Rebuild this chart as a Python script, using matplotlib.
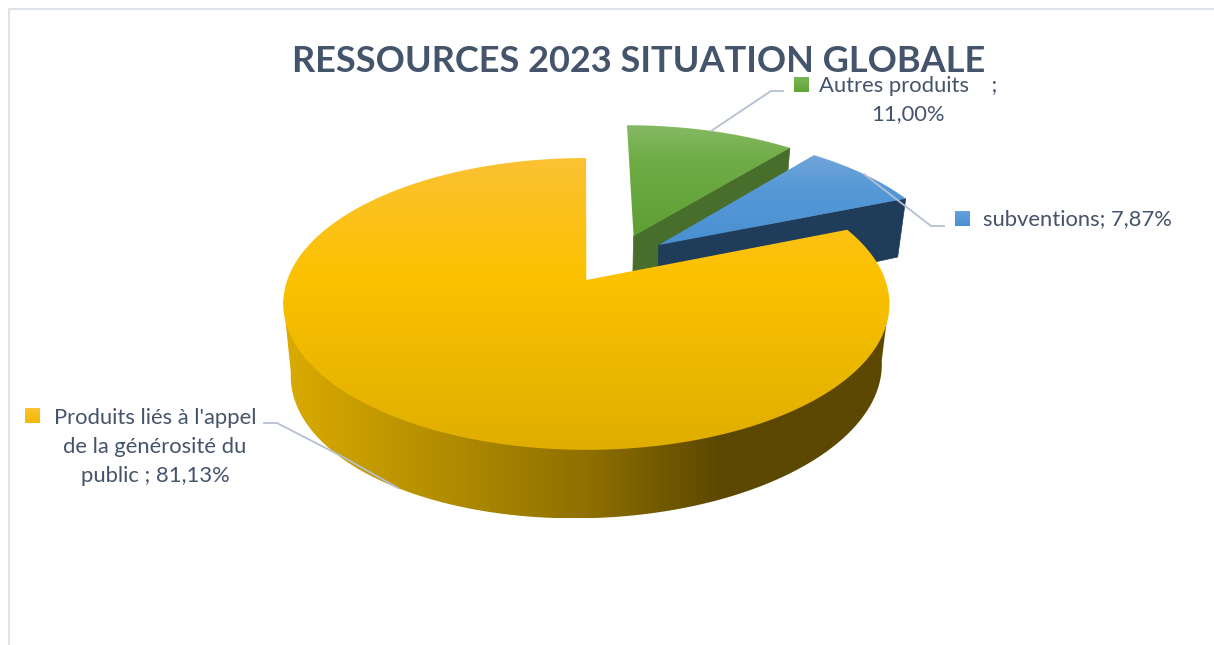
import numpy as np
import matplotlib
matplotlib.use('Agg')
import matplotlib.pyplot as plt
from matplotlib.colors import LinearSegmentedColormap
from matplotlib.patches import Polygon

plt.rcParams['font.family'] = ['Lato', 'DejaVu Sans']

# data
title = 'RESSOURCES 2023 SITUATION GLOBALE'
categories = ['Autres produits   ', 'subventions', "Produits liés à l'appel\nde la générosité du\npublic "]
values = [11.00, 7.87, 81.13]
separators = [' ;\n', '; ', '; ']

# how far each slice is pulled off the centre, in disc radius units
pull_u = [0.173, 0.259, 0.006]
pull_v = [-0.327, -0.257, 0.0]

# pie geometry in pixels, perspective k
cx, cy = 584.5, 280
R, r, k = 299, 142, 0.164
low_y, low_r, low_tilt, shrink = 66, 144, 6, 0.975

top_colors = [
    [(0.0, '#86B963'), (0.3, '#70AD47'), (1.0, '#5E9E33')],
    [(0.0, '#72A4D9'), (0.4, '#5498D6'), (1.0, '#4A90D2')],
    [(0.0, '#FBC134'), (0.4, '#FCC200'), (1.0, '#DFAE00')],
]
wall_colors = ['#476E2B', '#1F3D5B']
yellow_wall = [(0.0, '#DBAB00'), (0.2, '#BC9400'), (0.5, '#8F7000'), (0.72, '#5C4800'), (1.0, '#5C4800')]
key_colors = [
    [(0.0, '#7DB558'), (1.0, '#62A436')],
    [(0.0, '#66A1DB'), (1.0, '#4A90D2')],
    [(0.0, '#FBC431'), (1.0, '#F4B800')],
]
text_color = '#44546A'
leader_color = '#B4C0D2'


def project(u, v, low=False):
    w = 1 - k * v
    if low:
        return cx + R * shrink * u / w, cy + low_y + low_r * v / w - low_tilt * u / w
    return cx + R * u / w, cy + r * v / w


def rim(t0, t1, pu, pv, low=False, n=200):
    t = np.radians(np.linspace(t0, t1, n))
    x, y = project(pu + np.sin(t), pv - np.cos(t), low)
    return np.column_stack([x, y])


def grad_fill(ax, pts, stops, vertical=True, zorder=2):
    pts = np.asarray(pts)
    x0, y0 = pts.min(axis=0)
    x1, y1 = pts.max(axis=0)
    cmap = LinearSegmentedColormap.from_list('g', stops)
    g = np.linspace(0, 1, 256)
    g = g[:, None] if vertical else g[None, :]
    im = ax.imshow(g, cmap=cmap, vmin=0, vmax=1, extent=(x0, x1, y1, y0),
                   aspect='auto', origin='upper', zorder=zorder)
    patch = Polygon(pts, closed=True, transform=ax.transData, fc='none', ec='none')
    ax.add_patch(patch)
    im.set_clip_path(patch)


fig = plt.figure(figsize=(12.14, 6.45), dpi=100)
ax = fig.add_axes([0, 0, 1, 1])

# slice angles, clockwise from 12 o'clock
ends = np.cumsum(values) / np.sum(values) * 360
starts = np.r_[0, ends[:-1]]

# green and blue: cut wall then top
z = 2
for i in range(2):
    apex = np.array(project(pull_u[i], pull_v[i]))
    apex_low = np.array(project(pull_u[i], pull_v[i], True))
    edge = rim(ends[i], ends[i], pull_u[i], pull_v[i], n=1)[0]
    edge_low = rim(ends[i], ends[i], pull_u[i], pull_v[i], True, n=1)[0]
    ax.add_patch(Polygon([apex, edge, edge_low, apex_low], fc=wall_colors[i], ec=wall_colors[i], lw=0.5, zorder=z))
    top = np.vstack([apex, rim(starts[i], ends[i], pull_u[i], pull_v[i])])
    grad_fill(ax, top, top_colors[i], zorder=z + 1)
    z += 2

# yellow: outer wall between the widest points of the top, then top
i = 2
wall = np.vstack([rim(262, 262, pull_u[i], pull_v[i], n=1),
                  rim(262, 98, pull_u[i], pull_v[i], True),
                  rim(98, 98, pull_u[i], pull_v[i], n=1)])
grad_fill(ax, wall, yellow_wall, vertical=False, zorder=z)
top = np.vstack([project(pull_u[i], pull_v[i]), rim(starts[i], ends[i], pull_u[i], pull_v[i])])
grad_fill(ax, top, top_colors[i], zorder=z + 1)

# leader lines, inner end sits on the rim at the middle of the slice
mids = (starts + ends) / 2
a = rim(mids[0], mids[0], pull_u[0], pull_v[0], n=1)[0]
ax.plot([a[0], 771, 783], [a[1], 91, 91], color=leader_color, lw=1.3, zorder=10)
a = rim(mids[1], mids[1], pull_u[1], pull_v[1], n=1)[0]
ax.plot([a[0], 931, 944], [a[1], 226, 226], color=leader_color, lw=1.3, zorder=10)
a = rim(mids[2], mids[2], pull_u[2], pull_v[2], True, n=1)[0]
ax.plot([a[0], 343, 277, 264], [a[1], 457, 423, 423], color=leader_color, lw=1.3, zorder=10)

# legend keys and labels
label_pos = [(908, 100), (1077, 219), (155, 447)]
key_pos = [(794, 77), (955, 211), (25, 408)]
for i in range(3):
    x, y = key_pos[i]
    grad_fill(ax, [(x, y), (x + 15, y), (x + 15, y + 15), (x, y + 15)], key_colors[i], zorder=11)
    s = categories[i] + separators[i] + f'{values[i]:.2f}%'.replace('.', ',')
    ax.text(label_pos[i][0], label_pos[i][1], s, ha='center', va='center', ma='center',
            fontsize=15.8, color=text_color, linespacing=1.55, zorder=12)

ax.text(639, 61, title, ha='center', va='center', fontsize=26, fontweight='bold', color=text_color, zorder=12)

# chart frame
ax.plot([9, 9, 1214], [645, 8.5, 8.5], color='#DEE3EA', lw=1.5, zorder=1)

ax.set_xlim(0, 1214)
ax.set_ylim(645, 0)
ax.axis('off')
fig.savefig('out.png', dpi=100)
